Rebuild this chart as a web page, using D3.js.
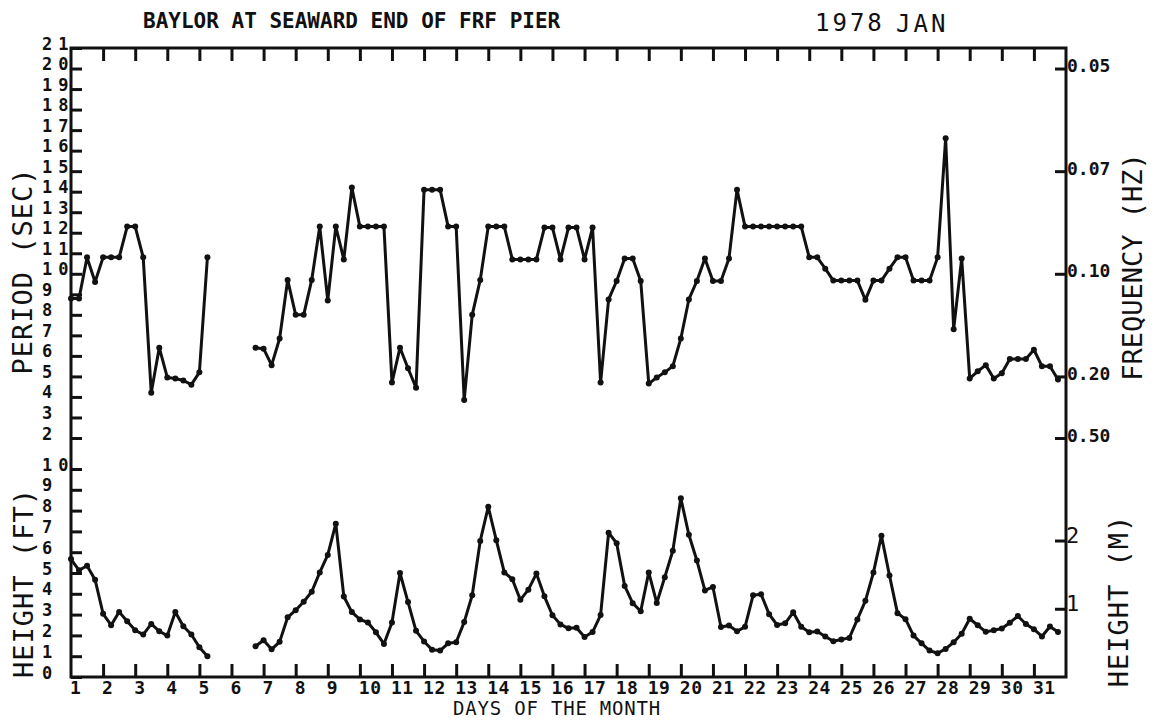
<!DOCTYPE html>
<html>
<head>
<meta charset="utf-8">
<script src="https://cdn.jsdelivr.net/npm/d3@7/dist/d3.min.js"></script>
<style>
body { margin: 0; background: #fff; }
text { font-family: "DejaVu Sans Mono", monospace; fill: #111; }
</style>
</head>
<body>
<svg id="chart" width="1157" height="721"></svg>
<script>
// 6-hourly samples, first one at 00:00 on Jan 1
var startDay = 1, stepDays = 0.25;

// wave period (sec), 4 per day, null = no data
var periodSec = [
    8.8, 8.8, 10.8, 9.6,      10.8, 10.8, 10.8, 12.3,
    12.3, 10.8, 4.2, 6.4,     4.95, 4.9, 4.8, 4.6,
    5.2, 10.8, null, null,    null, null, null, 6.4,
    6.35, 5.55, 6.85, 9.7,    8.0, 8.0, 9.7, 12.3,
    8.7, 12.3, 10.7, 14.2,    12.3, 12.3, 12.3, 12.3,
    4.7, 6.4, 5.4, 4.45,      14.1, 14.1, 14.1, 12.3,
    12.3, 3.85, 8.0, 9.7,     12.3, 12.3, 12.3, 10.7,
    10.7, 10.7, 10.7, 12.25,  12.25, 10.7, 12.25, 12.25,
    10.7, 12.25, 4.7, 8.75,   9.65, 10.75, 10.75, 9.65,
    4.65, 4.95, 5.2, 5.5,     6.85, 8.75, 9.65, 10.75,
    9.65, 9.65, 10.75, 14.1,  12.3, 12.3, 12.3, 12.3,
    12.3, 12.3, 12.3, 12.3,   10.8, 10.8, 10.25, 9.67,
    9.67, 9.67, 9.67, 8.73,   9.67, 9.67, 10.25, 10.8,
    10.8, 9.67, 9.67, 9.67,   10.8, 16.6, 7.3, 10.75,
    4.9, 5.25, 5.55, 4.9,     5.15, 5.85, 5.85, 5.85,
    6.3, 5.5, 5.5, 4.85
];

// wave height (ft)
var heightFt = [
    5.67, 5.13, 5.35, 4.68,   3.04, 2.49, 3.13, 2.68,
    2.25, 2.04, 2.55, 2.2,    1.99, 3.13, 2.44, 2.04,
    1.43, 1.0, null, null,    null, null, null, 1.48,
    1.77, 1.33, 1.69, 2.87,   3.21, 3.62, 4.1, 5.03,
    5.87, 7.37, 3.87, 3.12,   2.77, 2.62, 2.15, 1.59,
    2.62, 5.0, 3.6, 2.22,     1.71, 1.31, 1.27, 1.62,
    1.67, 2.64, 3.93, 6.54,   8.18, 6.58, 5.03, 4.7,
    3.71, 4.2, 4.97, 3.88,    2.97, 2.53, 2.34, 2.37,
    1.92, 2.16, 2.98, 6.94,   6.43, 4.38, 3.55, 3.16,
    5.03, 3.56, 4.8, 6.07,    8.59, 6.84, 5.6, 4.16,
    4.33, 2.4, 2.48, 2.2,     2.41, 3.93, 3.98, 3.02,
    2.5, 2.58, 3.11, 2.42,    2.15, 2.19, 1.95, 1.72,
    1.8, 1.88, 2.77, 3.66,    5.02, 6.79, 4.88, 3.07,
    2.78, 1.99, 1.62, 1.27,   1.14, 1.35, 1.67, 2.08,
    2.8, 2.49, 2.17, 2.25,    2.33, 2.61, 2.93, 2.55,
    2.3, 1.95, 2.43, 2.16
];

var dayLabels = [1, 2, 3, 4, 5, 6, 7, 8, 9, 10, 11, 12, 13, 14, 15, 16,
    17, 18, 19, 20, 21, 22, 23, 24, 25, 26, 27, 28, 29, 30, 31];
var dayTicks = [2, 3, 4, 5, 6, 7, 8, 9, 10, 11, 12, 13, 14, 15, 16,
    17, 18, 19, 20, 21, 22, 23, 24, 25, 26, 27, 28, 29, 30, 31];
var periodTicks = [2, 3, 4, 5, 6, 7, 8, 9, 10, 11, 12, 13, 14, 15, 16, 17, 18, 19, 20, 21];
var heightTicks = [0, 1, 2, 3, 4, 5, 6, 7, 8, 9, 10];
var freqTickPeriods = [20, 15, 10, 5, 2];
var freqTickLabels = ["0.05", "0.07", "0.10", "0.20", "0.50"];
var meterTicks = [1, 2];
var FT_PER_M = 3.2808;

var svg = d3.select("#chart");

var x = d3.scaleLinear().domain([1, 32]).range([71, 1066]);
var yP = d3.scaleLinear().domain([2, 21]).range([438, 48]);
var yH = d3.scaleLinear().domain([0, 10]).range([677, 469]);
var yM = d3.scaleLinear().domain([0, 10 / FT_PER_M]).range([677, 469]);

var top_y = yP(21), bottom_y = yH(0);

function tday(i) { return startDay + i * stepDays; }

// frame
svg.append("rect")
    .attr("x", x(1)).attr("y", top_y)
    .attr("width", x(32) - x(1)).attr("height", bottom_y - top_y)
    .attr("fill", "none").attr("stroke", "#111").attr("stroke-width", 3);

function style_axis(g) {
    g.select(".domain").remove();
    g.selectAll(".tick line").attr("stroke", "#111").attr("stroke-width", 3);
}

// day ticks, bottom and top, pointing inward
svg.append("g")
    .attr("transform", "translate(0," + bottom_y + ")")
    .call(d3.axisBottom(x).tickValues(dayTicks).tickSize(-13).tickFormat(""))
    .call(style_axis);
svg.append("g")
    .attr("transform", "translate(0," + top_y + ")")
    .call(d3.axisTop(x).tickValues(dayTicks).tickSize(-13).tickFormat(""))
    .call(style_axis);

svg.append("g").selectAll("text")
    .data(dayLabels)
    .enter().append("text")
    .attr("x", function(d) { return x(d) - 1; })
    .attr("y", 694)
    .attr("font-size", 18)
    .attr("font-weight", "bold")
    .attr("letter-spacing", 0.5)
    .text(function(d) { return d; });

// left axis: period (sec) and height (ft), labels left aligned
function left_labels(g) {
    g.selectAll(".tick text")
        .attr("x", -29).attr("dy", null).attr("y", 1)
        .attr("text-anchor", "start")
        .attr("font-size", 17)
        .attr("font-weight", "bold")
        .attr("letter-spacing", 6)
        .attr("font-family", "DejaVu Sans Mono")
        .attr("fill", "#111");
}
svg.append("g")
    .attr("transform", "translate(" + x(1) + ",0)")
    .call(d3.axisLeft(yP).tickValues(periodTicks).tickSize(-11).tickFormat(d3.format("d")))
    .call(style_axis).call(left_labels);
svg.append("g")
    .attr("transform", "translate(" + x(1) + ",0)")
    .call(d3.axisLeft(yH).tickValues(heightTicks).tickSize(-11).tickFormat(d3.format("d")))
    .call(style_axis).call(left_labels);

// right axis: frequency and height (m)
svg.append("g")
    .attr("transform", "translate(" + x(32) + ",0)")
    .call(d3.axisRight(yP).tickValues(freqTickPeriods).tickSize(-11)
        .tickFormat(function(d, i) { return freqTickLabels[i]; }))
    .call(style_axis)
    .call(function(g) {
        g.selectAll(".tick text")
            .attr("x", 1).attr("dy", null).attr("y", 3)
            .attr("font-size", 18).attr("font-weight", "bold")
            .attr("font-family", "DejaVu Sans Mono").attr("fill", "#111");
    });
svg.append("g")
    .attr("transform", "translate(" + x(32) + ",0)")
    .call(d3.axisRight(yM).tickValues(meterTicks).tickSize(-11).tickFormat(d3.format("d")))
    .call(style_axis)
    .call(function(g) {
        g.selectAll(".tick text")
            .attr("x", 0).attr("dy", null).attr("y", 2)
            .attr("font-size", 22)
            .attr("font-family", "DejaVu Sans Mono").attr("fill", "#111");
    });

// axis titles
function rot_label(tx, ty, txt, sp) {
    svg.append("text")
        .attr("transform", "translate(" + tx + "," + ty + ") rotate(-90)")
        .attr("text-anchor", "middle")
        .attr("font-size", 27)
        .attr("letter-spacing", sp)
        .text(txt);
}
rot_label(32, 271, "PERIOD (SEC)", 1);
rot_label(33, 583, "HEIGHT (FT)", 1);
rot_label(1142, 267, "FREQUENCY (HZ)", 0);
rot_label(1128, 601, "HEIGHT (M)", 1);

svg.append("text").attr("x", 453).attr("y", 715)
    .attr("font-size", 19).attr("letter-spacing", 0.8).text("DAYS OF THE MONTH");

svg.append("text").attr("x", 143).attr("y", 28)
    .attr("font-size", 21).attr("font-weight", "bold")
    .text("BAYLOR AT SEAWARD END OF FRF PIER");
svg.append("text").attr("x", 815).attr("y", 31)
    .attr("font-size", 24).attr("letter-spacing", 3).text("1978");
svg.append("text").attr("x", 896).attr("y", 32)
    .attr("font-size", 24).attr("letter-spacing", 3).text("JAN");

// data
function draw_series(values, yscale) {
    var line = d3.line()
        .defined(function(d) { return d != null; })
        .x(function(d, i) { return x(tday(i)); })
        .y(function(d) { return yscale(d); });

    svg.append("path")
        .datum(values)
        .attr("d", line)
        .attr("fill", "none")
        .attr("stroke", "#111")
        .attr("stroke-width", 3)
        .attr("stroke-linejoin", "round");

    svg.append("g").selectAll("circle")
        .data(values.map(function(v, i) { return {t: tday(i), v: v}; })
            .filter(function(d) { return d.v != null; }))
        .enter().append("circle")
        .attr("cx", function(d) { return x(d.t); })
        .attr("cy", function(d) { return yscale(d.v); })
        .attr("r", 3)
        .attr("fill", "#111");
}

draw_series(periodSec, yP);
draw_series(heightFt, yH);
</script>
</body>
</html>
